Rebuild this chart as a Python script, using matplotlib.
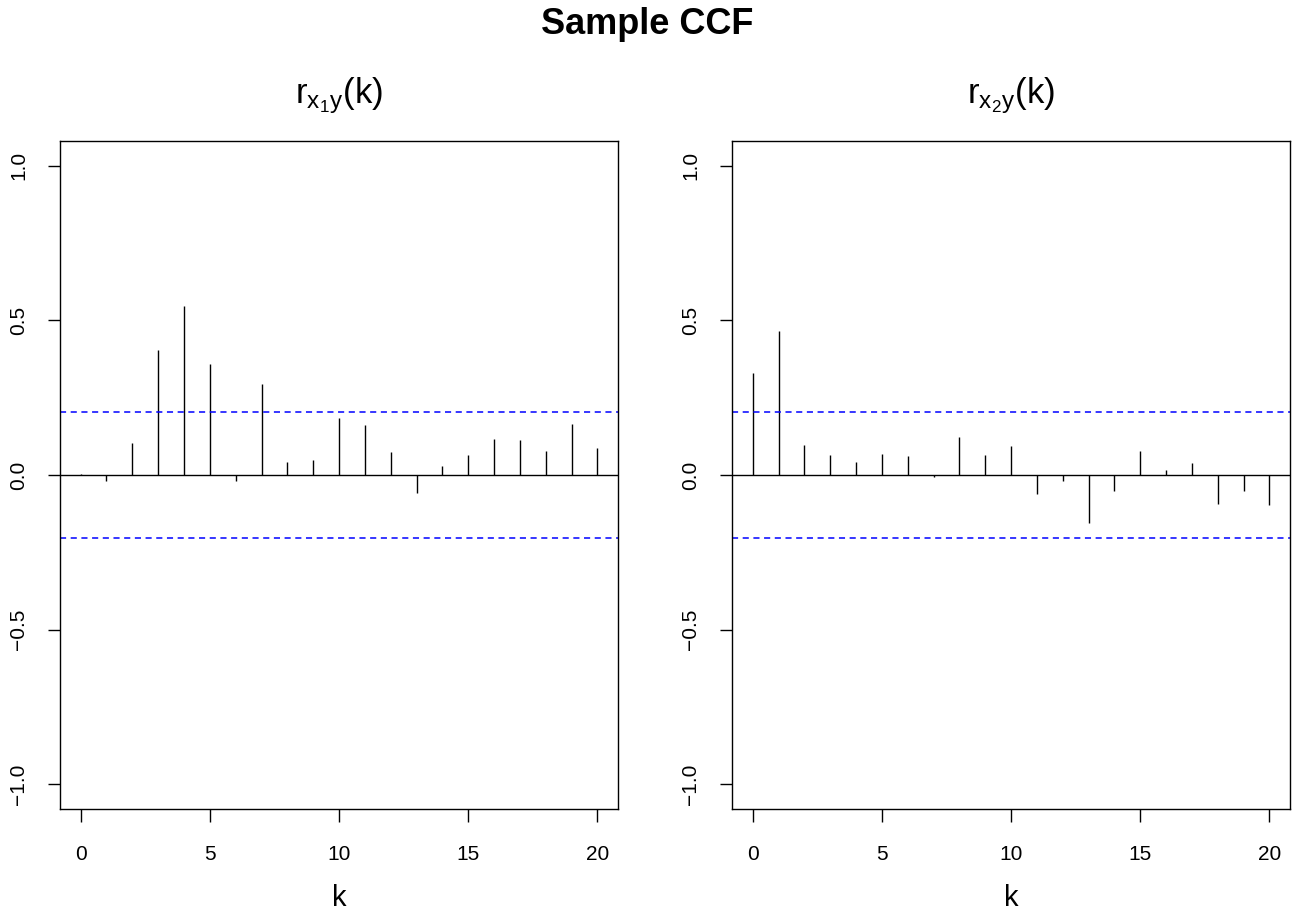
import matplotlib.pyplot as plt
import numpy as np

plt.rcParams['font.family'] = ['Liberation Sans', 'DejaVu Sans']
plt.rcParams['mathtext.fontset'] = 'custom'
plt.rcParams['mathtext.rm'] = 'Liberation Sans'
plt.rcParams['mathtext.it'] = 'Liberation Sans'

lags = np.arange(0, 21)

# sample cross-correlations
ccf_x1y = [0.003, -0.02, 0.103, 0.404, 0.547, 0.359, -0.02, 0.294, 0.042, 0.049,
           0.183, 0.163, 0.074, -0.058, 0.028, 0.066, 0.115, 0.114, 0.076, 0.165, 0.088]
ccf_x2y = [0.330, 0.466, 0.096, 0.064, 0.041, 0.068, 0.061, -0.005, 0.124, 0.065,
           0.094, -0.060, -0.018, -0.155, -0.051, 0.077, 0.016, 0.039, -0.095, -0.051, -0.098]
conf_bound = 0.203

titles = [r'$\mathregular{r_{x_1y}(k)}$', r'$\mathregular{r_{x_2y}(k)}$']
series = [ccf_x1y, ccf_x2y]

fig = plt.figure(figsize=(12.94, 9.19), dpi=100)
fig.suptitle('Sample CCF', fontsize=26, fontweight='bold', y=0.992)

lefts = [60 / 1294, 732 / 1294]
for i in range(2):
    ax = fig.add_axes([lefts[i], 110 / 919, 558 / 1294, 668 / 919])
    ax.vlines(lags, 0, series[i], color='black', linewidth=1.0)
    ax.axhline(0, color='black', linewidth=1.0)
    ax.axhline(conf_bound, color='blue', linewidth=1.1, linestyle=(0, (4, 3)))
    ax.axhline(-conf_bound, color='blue', linewidth=1.1, linestyle=(0, (4, 3)))
    ax.set_xlim(-0.8, 20.8)
    ax.set_ylim(-1.08, 1.08)
    ax.set_xticks([0, 5, 10, 15, 20])
    ax.set_yticks([-1.0, -0.5, 0.0, 0.5, 1.0])
    ax.set_yticklabels(['\u22121.0', '\u22120.5', '0.0', '0.5', '1.0'],
                       rotation=90, va='center')
    ax.tick_params(axis='both', direction='out', length=9, width=1.0, labelsize=15)
    ax.tick_params(axis='y', pad=14)
    ax.tick_params(axis='x', pad=17)
    for sp in ax.spines.values():
        sp.set_linewidth(1.0)
    ax.set_xlabel('k', fontsize=21, labelpad=14)
    ax.set_title(titles[i], fontsize=25, pad=27)

fig.savefig('out.png', dpi=100)
